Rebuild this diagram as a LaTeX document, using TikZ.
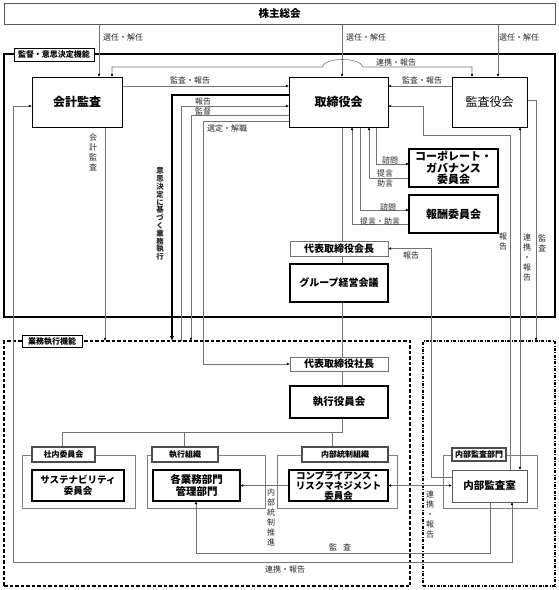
\documentclass[tikz,border=0pt]{standalone}
\usepackage{fontspec}
\setmainfont{Noto Sans CJK JP}
\usetikzlibrary{arrows.meta}
\begin{document}
\begin{tikzpicture}[x=1pt,y=-1pt,
  conn/.style={draw=black!55, line width=0.6pt},
  arr/.style={conn, -{Latex[length=3.2pt,width=2.8pt,black]}},
  darr/.style={conn, {Latex[length=3.2pt,width=2.8pt,black]}-{Latex[length=3.2pt,width=2.8pt,black]}},
  bigarr/.style={draw=black, line width=1.8pt, -{Latex[length=5pt,width=4.5pt]}},
  bx/.style 2 args={minimum width=#1, minimum height=#2, inner sep=0pt, align=center},
  mainbox/.style={draw=black, line width=1pt, fill=white},
  thickbox/.style={draw=black, line width=1.3pt, fill=white},
  thinbox/.style={draw=black!55, line width=0.8pt, fill=white},
  framebox/.style={draw=black, line width=1.3pt},
  dashframe/.style={draw=black, line width=1.2pt, dash pattern=on 3.5pt off 2pt},
  dotframe/.style={draw=black, line width=1.1pt, dash pattern=on 3pt off 1.5pt on 0.8pt off 1.5pt},
  grpbox/.style={draw=black!50, line width=0.6pt},
  ftab/.style={draw=black, line width=0.9pt, fill=white, font=\bfseries\fontsize{8}{9}\selectfont},
  gtab/.style={draw=black!70, line width=1.4pt, fill=white, font=\bfseries\fontsize{8}{9}\selectfont},
  lbl/.style={font=\fontsize{8}{9}\selectfont, inner sep=0pt, text=black!85},
  vlbl/.style={lbl, align=center, font=\fontsize{8}{10}\selectfont},
]
\useasboundingbox (0,0) rectangle (558,590);

% frames
\node[framebox, bx={551}{263}] (kantokuF) at (279.5,185.5) {};
\node[dashframe, bx={406}{245}] (gyomuF) at (207,463.5) {};
\node[dotframe, bx={132}{245}] (naibuF) at (489,463.5) {};

% group boxes
\node[grpbox, bx={113}{53}] (g1) at (78.5,481.5) {};
\node[grpbox, bx={118}{53}] (g2) at (206,481.5) {};
\node[grpbox, bx={120}{53}] (g3) at (337,481.5) {};
\node[grpbox, bx={94}{53}] (g4) at (490,481.5) {};

% connectors
\draw[arr] (99,24) -- (99,77);
\draw[arr] (342,24) -- (342,77);
\draw[arr] (498,24) -- (498,77);
\draw[darr] (112,77) -- (112,67) -- (322,67) .. controls (325,57) and (360,57) .. (363,67) -- (472,67) -- (472,77);
\draw[arr] (122,86) -- (289,86);
\draw[arr] (452,86) -- (388,86);
\draw[bigarr] (289,95) -| (172,341);
\draw[arr] (181,341) |- (289,106);
\draw[arr] (289,115) -| (191,341);
\draw[arr] (289,121) -| (203,364) -- (290,364);
\draw[arr] (105,127) -- (105,341);
\draw[darr] (32,106) -- (13,106) -- (13,562) -- (512,562) -- (512,502);
\draw[arr] (490,502) |- (196,553) -- (196,501);
\draw[arr] (289,485.5) -- (240,485.5);
\draw[darr] (388,485.5) -- (452,485.5);
\draw[arr] (452,477) -| (431,248.5) -- (388,248.5);
\draw[arr] (510,470) -- (510,135) -- (423,135) -- (423,106) -- (388,106);
\draw[darr] (520,127) -- (520,470);
\draw[arr] (527,100) -| (536,341);
% below board
\draw[conn] (342,127) -- (342,241);
\draw[conn] (342,256) -- (342,264);
\draw[conn] (342,302) -- (342,357);
\draw[conn] (342,371) -- (342,386);
\draw[arr] (409,224) -| (352,127);
\draw[arr] (360,127) |- (409,210);
\draw[arr] (409,178) -| (369,127);
\draw[arr] (376,127) |- (409,164);
% tree
\draw[conn] (342,418) -- (342,432) -- (62,432) -- (62,447);
\draw[conn] (184,432) -- (184,447);
\draw[conn] (332,432) -- (332,447);

% main nodes
\node[draw=black!65, line width=0.8pt, fill=white, bx={551}{21}, font=\bfseries\fontsize{10.5}{12}\selectfont] (kabu) at (279.5,13.5) {株主総会};
\node[mainbox, bx={90}{50}, font=\bfseries\fontsize{12}{14}\selectfont] (kaikei) at (77,102) {会計監査};
\node[mainbox, bx={99}{50}, font=\bfseries\fontsize{12}{14}\selectfont] (tori) at (338.5,102) {取締役会};
\node[mainbox, bx={75}{50}, font=\fontsize{12}{14}\selectfont] (kansayaku) at (489.5,102) {監査役会};
\node[mainbox, line width=1.2pt, bx={89}{38}, font=\bfseries\fontsize{11}{11.5}\selectfont] (cg) at (453.5,168) {コーポレート・\\ガバナンス\\委員会};
\node[mainbox, line width=1.2pt, bx={89}{38}, font=\bfseries\fontsize{11}{13}\selectfont] (hoshu) at (453.5,214) {報酬委員会};
\node[thinbox, bx={98}{15}, font=\bfseries\fontsize{10}{12}\selectfont] (kaicho) at (339,248.5) {代表取締役会長};
\node[thickbox, bx={98}{38}, font=\bfseries\fontsize{10}{12}\selectfont] (group) at (339,283) {グループ経営会議};
\node[thinbox, bx={98}{14}, font=\bfseries\fontsize{10}{12}\selectfont] (shacho) at (339,364) {代表取締役社長};
\node[thickbox, bx={98}{32}, font=\bfseries\fontsize{10.5}{12}\selectfont] (shikko) at (339,402) {執行役員会};
\node[thickbox, line width=1.2pt, bx={92}{31}, font=\bfseries\fontsize{9.5}{11}\selectfont] (sustain) at (78,485.5) {サステナビリティ\\委員会};
\node[thickbox, line width=1.2pt, bx={87}{31}, font=\bfseries\fontsize{10.5}{11.5}\selectfont] (kakugyomu) at (196.5,485.5) {各業務部門\\管理部門};
\node[thickbox, line width=1.2pt, bx={99}{31}, font=\bfseries\fontsize{9.5}{10}\selectfont] (compl) at (338.5,485.5) {コンプライアンス・\\リスクマネジメント\\委員会};
\node[draw=black!65, line width=0.9pt, fill=white, bx={75}{32}, font=\bfseries\fontsize{10.5}{12}\selectfont] (naibushitsu) at (489.5,486) {内部監査室};

% tabs
\node[ftab, bx={80}{13}] (kantokuL) at (54,54.5) {監督・意思決定機能};
\node[ftab, bx={60}{12}] (gyomuL) at (52,341.5) {業務執行機能};
\node[gtab, bx={63}{15}] (t1) at (63.5,454.5) {社内委員会};
\node[gtab, bx={66}{15}] (t2) at (185,454.5) {執行組織};
\node[gtab, bx={86}{15}] (t3) at (345,454.5) {内部統制組織};
\node[gtab, bx={54}{13}] (t4) at (479,454.5) {内部監査部門};

% labels
\node[lbl] (l1) at (123,37) {選任・解任};
\node[lbl] (l2) at (366,37) {選任・解任};
\node[lbl] (l3) at (519,37) {選任・解任};
\node[lbl] (l4) at (396,62) {連携・報告};
\node[lbl] (l5) at (190,80) {監査・報告};
\node[lbl] (l6) at (422,80) {監査・報告};
\node[lbl] (l7) at (203,101) {報告};
\node[lbl] (l8) at (203,111) {監督};
\node[lbl] (l9) at (227,128) {選定・解職};
\node[lbl] (l10) at (390,160) {諮問};
\node[lbl] (l11) at (385,173) {提言};
\node[lbl] (l12) at (385,183) {助言};
\node[lbl] (l13) at (388,207) {諮問};
\node[lbl] (l14) at (380,221) {提言・助言};
\node[lbl] (l15) at (411,255) {報告};
\node[vlbl] (l16) at (503,241) {報\\告};
\node[vlbl] (l17) at (527,257) {連\\携\\・\\報\\告};
\node[vlbl] (l18) at (542,243) {監\\査};
\node[vlbl] (l19) at (93,152) {会\\計\\監\\査};
\node[lbl, align=center, font=\bfseries\fontsize{7.4}{7.8}\selectfont] (l20) at (160,214) {意\\思\\決\\定\\に\\基\\づ\\く\\業\\務\\執\\行};
\node[vlbl] (l21) at (271,517) {内\\部\\統\\制\\推\\進};
\node[vlbl] (l22) at (430,514) {連\\携\\・\\報\\告};
\node[lbl] (l23) at (340,547) {監\hspace{6pt}査};
\node[lbl] (l24) at (285,569) {連携・報告};
\end{tikzpicture}
\end{document}
